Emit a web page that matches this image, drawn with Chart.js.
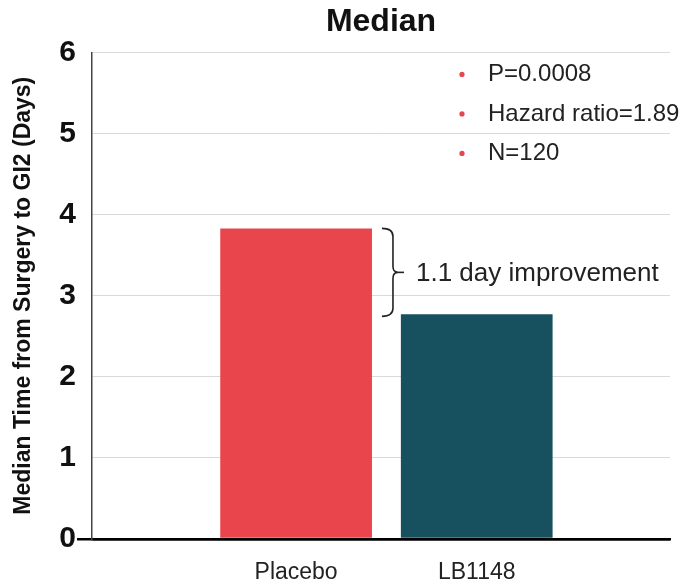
<!DOCTYPE html>
<html>
<head>
<meta charset="utf-8">
<script src="https://cdn.jsdelivr.net/npm/chart.js@4/dist/chart.umd.min.js"></script>
<style>
  html, body { margin: 0; padding: 0; background: #fff; }
  #wrap { width: 686px; height: 586px; }
</style>
</head>
<body>
<div id="wrap"><canvas id="canvas" width="686" height="586"></canvas></div>
<script>
// data
var groups = ['Placebo', 'LB1148'];
var groupPos = [1, 2];
var medianDays = [3.83, 2.77];
var barColors = ['#E9454D', '#17505E'];
var notes = ['P=0.0008', 'Hazard ratio=1.89', 'N=120'];
var improvementText = '1.1 day improvement';
var yTicks = [0, 1, 2, 3, 4, 5, 6];

var FONT = "'Liberation Sans', Arial, sans-serif";

var points = groupPos.map(function(p, i) { return { x: p, y: medianDays[i] }; });

var annotate = {
        id: 'annotate',
        afterDraw: function(chart) {
                var ctx = chart.ctx;
                var area = chart.chartArea;
                var y = chart.scales.y;
                var bars = chart.getDatasetMeta(0).data;

                // bullet notes, top right
                ctx.save();
                ctx.font = '24px ' + FONT;
                ctx.textBaseline = 'middle';
                notes.forEach(function(t, i) {
                        var ty = area.top + 22 + i * 39.5;
                        ctx.fillStyle = '#E9454D';
                        ctx.beginPath();
                        ctx.arc(area.left + 370, ty, 2.6, 0, Math.PI * 2);
                        ctx.fill();
                        ctx.fillStyle = '#222';
                        ctx.fillText(t, area.left + 396, ty);
                });

                // brace between the two bar tops
                var top = y.getPixelForValue(medianDays[0]);
                var bot = y.getPixelForValue(medianDays[1]) + 2;
                var mid = (top + bot) / 2;
                var x0 = bars[0].x + bars[0].width / 2 + 10;
                var xs = x0 + 11;
                ctx.strokeStyle = '#222';
                ctx.lineWidth = 1.6;
                ctx.beginPath();
                ctx.moveTo(x0, top);
                ctx.quadraticCurveTo(xs, top, xs, top + 8);
                ctx.lineTo(xs, mid - 6);
                ctx.quadraticCurveTo(xs, mid, xs + 5, mid);
                ctx.quadraticCurveTo(xs, mid, xs, mid + 6);
                ctx.lineTo(xs, bot - 8);
                ctx.quadraticCurveTo(xs, bot, x0, bot);
                ctx.stroke();
                ctx.beginPath();
                ctx.moveTo(xs + 5, mid);
                ctx.lineTo(xs + 11, mid);
                ctx.stroke();

                ctx.font = '26px ' + FONT;
                ctx.fillStyle = '#222';
                ctx.fillText(improvementText, xs + 23, mid + 1);
                ctx.restore();
        }
};

var config = {
        type: 'bar',
        data: {
                datasets: [{
                        data: points,
                        backgroundColor: barColors,
                        borderWidth: 0,
                        barPercentage: 0.84,
                        categoryPercentage: 1.0
                }]
        },
        options: {
                responsive: false,
                animation: false,
                layout: { padding: { left: 0, right: 16, top: 0, bottom: 0 } },
                plugins: {
                        legend: { display: false },
                        tooltip: { enabled: false },
                        title: {
                                display: true,
                                text: 'Median',
                                fullSize: false,
                                color: '#111',
                                font: { family: FONT, size: 32, weight: 'bold' },
                                padding: { top: 3, bottom: 11 }
                        }
                },
                scales: {
                        x: {
                                type: 'linear',
                                offset: false,
                                min: -0.13,
                                max: 3.07,
                                afterBuildTicks: function(scale) {
                                        scale.ticks = groupPos.map(function(v) { return { value: v }; });
                                },
                                afterFit: function(scale) { scale.height = 47; },
                                ticks: {
                                        callback: function(v) {
                                                var i = groupPos.indexOf(v);
                                                return i >= 0 ? groups[i] : '';
                                        },
                                        color: '#222',
                                        font: { family: FONT, size: 23 },
                                        padding: 20,
                                        maxRotation: 0
                                },
                                grid: { display: false, drawTicks: false, offset: false },
                                border: { color: '#000', width: 2.5 }
                        },
                        y: {
                                min: 0,
                                max: 6,
                                afterBuildTicks: function(scale) {
                                        scale.ticks = yTicks.map(function(v) { return { value: v }; });
                                },
                                afterFit: function(scale) { scale.width = 92; },
                                ticks: {
                                        color: '#111',
                                        font: { family: FONT, size: 30, weight: 'bold' },
                                        padding: 1
                                },
                                grid: {
                                        color: function(c) { return c.tick && c.tick.value === 0 ? '#000' : '#d9d9d9'; },
                                        lineWidth: function(c) { return c.tick && c.tick.value === 0 ? 2.5 : 1; },
                                        tickColor: function(c) { return c.tick && c.tick.value === 0 ? '#000' : 'rgba(0,0,0,0)'; },
                                        tickLength: 15
                                },
                                border: { color: '#444', width: 1.5 },
                                title: {
                                        display: true,
                                        text: 'Median Time from Surgery to GI2 (Days)',
                                        color: '#111',
                                        font: { family: FONT, size: 23, weight: 'bold' },
                                        padding: { top: 10, bottom: 0 }
                                }
                        }
                }
        },
        plugins: [annotate]
};

window.onload = function() {
        var ctx = document.getElementById('canvas').getContext('2d');
        window.myBar = new Chart(ctx, config);
};
</script>
</body>
</html>
